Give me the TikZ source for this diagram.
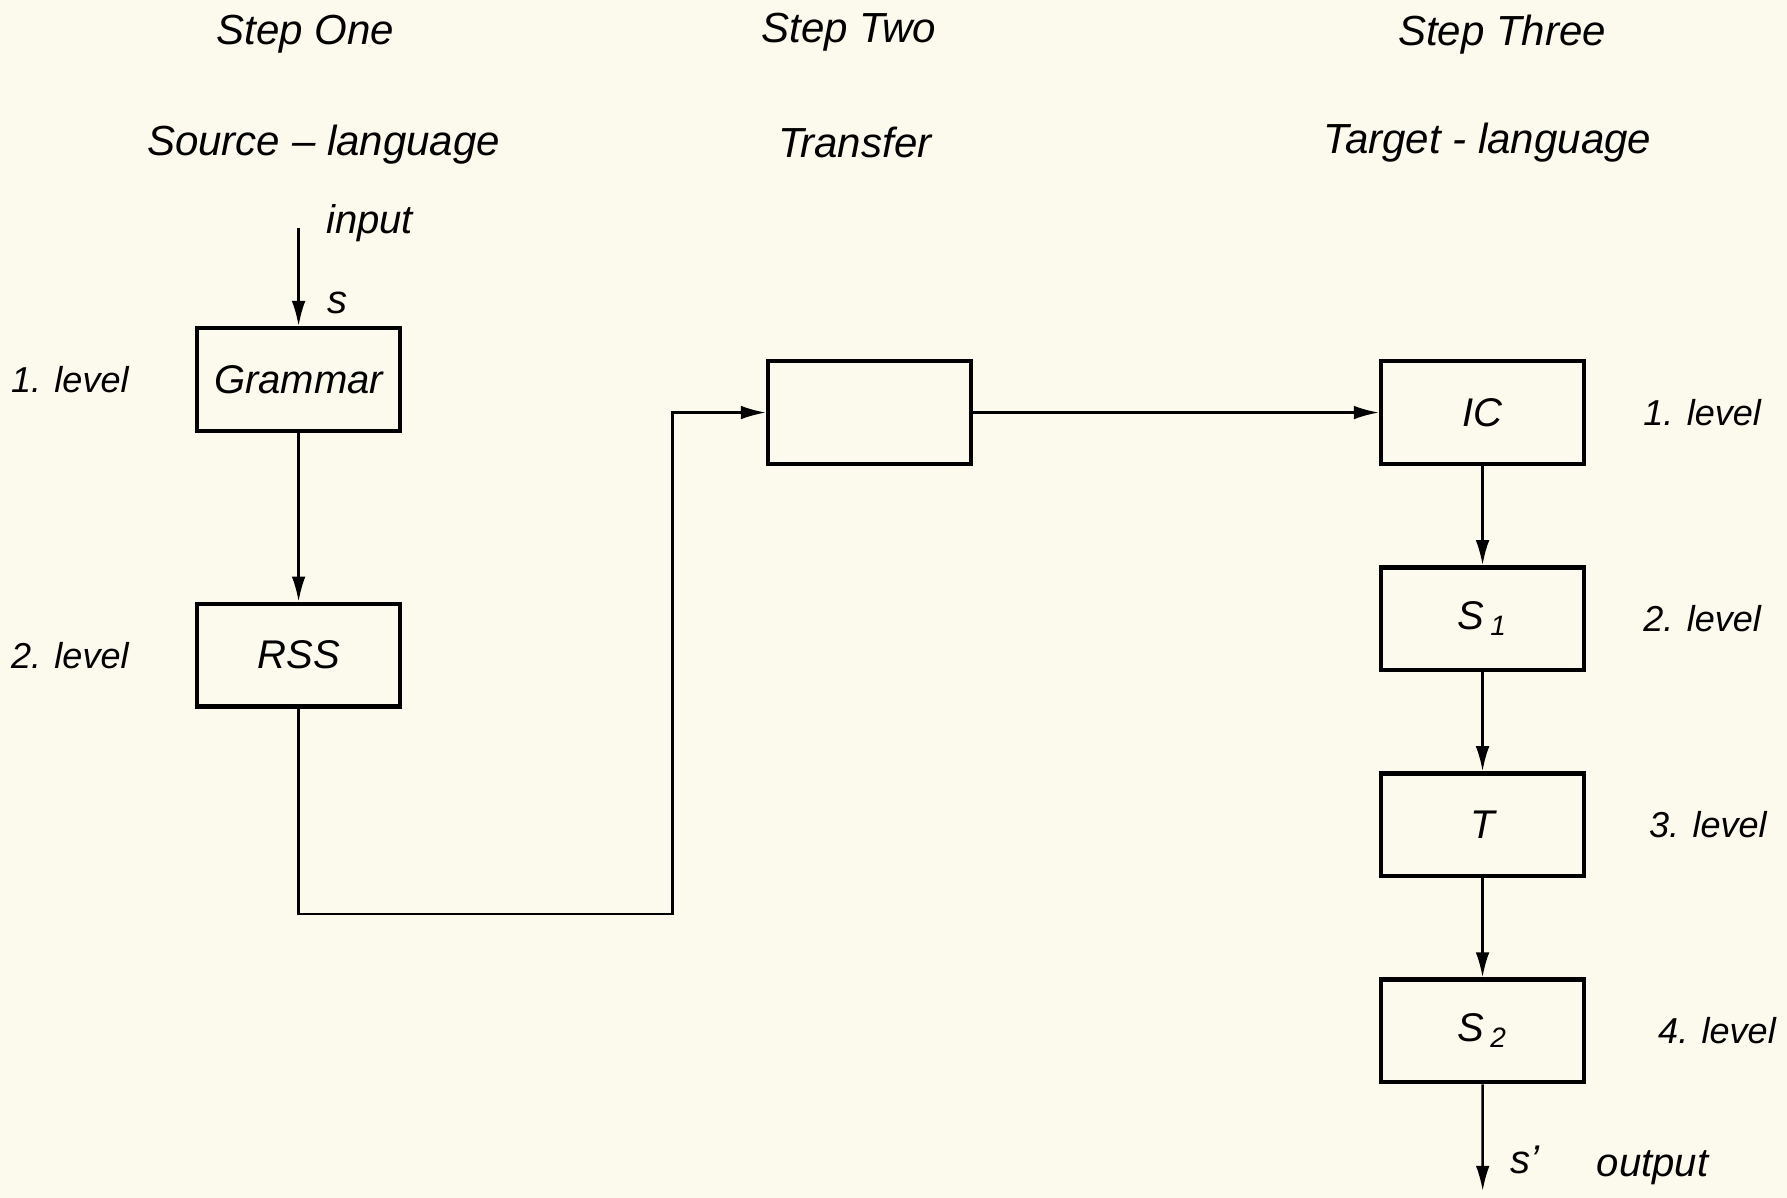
\documentclass[tikz,border=0pt]{standalone}
\usepackage{fontspec}
\setmainfont{Liberation Sans}
\usepackage{tikz}
\usetikzlibrary{arrows.meta,positioning}
\definecolor{paper}{HTML}{FCFAEC}

\begin{document}
\begin{tikzpicture}[
  x=0.1mm, y=-0.1mm,
  node distance=8.7mm and 5.4mm,
  stage/.style={draw=black, line width=1.1pt, minimum width=17.8mm, minimum height=9mm, inner sep=0pt, font=\itshape},
  arr/.style ={-{Latex[length=2.2mm, width=1.2mm]}, line width=0.6pt, black},
  lbl/.style ={font=\itshape, inner sep=1pt},
  lvl/.style ={font=\itshape\fontsize{9}{11}\selectfont, inner sep=1pt},
  head/.style={font=\itshape\fontsize{10.5}{12}\selectfont, inner sep=1pt},
]
  \fill[paper] (0,0) rectangle (1568,1051);
  \useasboundingbox (0,0) rectangle (1568,1051);

  % headings
  \node[head] (h1) at (268,30)  {Step One};
  \node[head] (h2) at (745,28)  {Step Two};
  \node[head] (h3) at (1318,30) {Step Three};
  \node[head] (l1) at (284,127) {Source -- language};
  \node[head] (l2) at (750,125) {Transfer};
  \node[head] (l3) at (1305,125) {Target - language};

  % step one
  \node[stage] (gram) at (262,333) {Grammar};
  \node[stage, below=14.8mm of gram] (rss) {RSS};
  \node[lvl, left=of gram] (lv1a) {1. level};
  \node[lvl, left=of rss]  (lv2a) {2. level};
  \coordinate (in) at (262,200);
  \node[lbl, anchor=west] (inp) at (282,196) {input};
  \node[lbl] (sin) at (296,266) {s};

  % step two
  \node[stage] (trans) at (763,362) {};
  \coordinate (bend) at (590,802);

  % step three
  \node[stage, right=35.6mm of trans] (ic) {IC};
  \node[stage, below=of ic] (s1) {S\,\textsubscript{1}};
  \node[stage, below=of s1] (t)  {T};
  \node[stage, below=of t]  (s2) {S\,\textsubscript{2}};
  \node[lvl, right=4.6mm of ic]  (lv1b) {1. level};
  \node[lvl, right=4.6mm of s1]  (lv2b) {2. level};
  \node[lvl, right=5.1mm of t]   (lv3b) {3. level};
  \node[lvl, right=5.9mm of s2]  (lv4b) {4. level};
  \coordinate (out) at (1301,1045);
  \node[lbl] (sout) at (1338,1018) {s'};
  \node[lbl] (outp) at (1450,1025) {output};

  \draw[arr] (in)    -- (gram);
  \draw[arr] (gram)  -- (rss);
  \draw[arr] (rss.south) |- (bend) |- (trans.west);
  \draw[arr] (trans) -- (ic);
  \draw[arr] (ic)    -- (s1);
  \draw[arr] (s1)    -- (t);
  \draw[arr] (t)     -- (s2);
  \draw[arr] (s2)    -- (out);
\end{tikzpicture}
\end{document}
